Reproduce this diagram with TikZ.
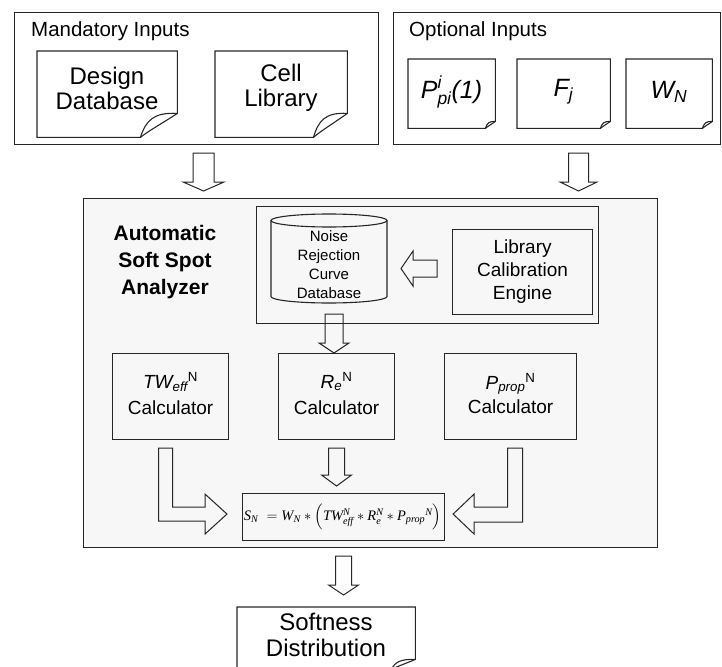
\documentclass[tikz,border=0pt]{standalone}
\usepackage{amsmath}
\usepackage{fontspec}
\setmainfont{Liberation Sans}
\newfontfamily\tnr{Liberation Serif}
\usetikzlibrary{calc}
\newcommand\tv[1]{\text{\tnr\itshape #1}}
\newcommand\si[1]{\text{\itshape #1}}
\newcommand\su[1]{\text{\upshape #1}}
\newcommand\fs[2]{\fontsize{#1}{#2}\selectfont}
% document outline with folded corner: node, fold x, fold y
\newcommand\docpath[3]{%
  \draw[ln] (#1.north west) -- (#1.north east) -- ($(#1.south east)+(0,-#3)$)
    .. controls ($(#1.south east)+(-0.4*#2,-0.6*#3)$) and ($(#1.south east)+(-0.8*#2,-0.25*#3)$) .. ($(#1.south east)+(-#2,0)$)
    -- (#1.south west) -- cycle;
  \draw[ln] ($(#1.south east)+(-#2,0)$) .. controls ($(#1.south east)+(-0.85*#2,-0.7*#3)$) and ($(#1.south east)+(-0.65*#2,-1.05*#3)$) .. ($(#1.south east)+(0,-#3)$);}
% vertical block arrow: top, tip, shaft half width, head half width, head length
\newcommand\vblk[5]{%
  \draw[blk] let \p1=(#1), \p2=(#2) in
    ({\x1-#3pt},\y1) -- ({\x1-#3pt},{\y2+#5pt}) -- ({\x1-#4pt},{\y2+#5pt}) -- (\x1,\y2)
    -- ({\x1+#4pt},{\y2+#5pt}) -- ({\x1+#3pt},{\y2+#5pt}) -- ({\x1+#3pt},\y1) -- cycle;}
% left-pointing block arrow: start, tip, shaft half width, head half width, head length
\newcommand\hblkl[5]{%
  \draw[blk] let \p1=(#1), \p2=(#2) in
    (\x1,{\y1+#3pt}) -- ({\x2+#5pt},{\y1+#3pt}) -- ({\x2+#5pt},{\y1+#4pt}) -- (\x2,\y1)
    -- ({\x2+#5pt},{\y1-#4pt}) -- ({\x2+#5pt},{\y1-#3pt}) -- (\x1,{\y1-#3pt}) -- cycle;}
\tikzset{
  ln/.style={draw=black!85, line width=1.1pt},
  box/.style={ln, rectangle, inner sep=0pt, anchor=north west},
  blk/.style={draw=black!85, line width=1pt, line join=miter},
  txt/.style={inner sep=0pt, align=center},
  doc/.style={rectangle, inner sep=0pt, anchor=north west},
}
\begin{document}
\begin{tikzpicture}[x=1pt, y=-1pt]
\useasboundingbox (0,0) rectangle (722,666);
% input groups
\node[box, minimum width=364, minimum height=132] (mand) at (14,12) {};
\node[box, minimum width=327, minimum height=132] (opt) at (393,12) {};
\node[txt, anchor=base west, font=\fs{20.5}{23}] (mandt) at (31,37) {Mandatory Inputs};
\node[txt, anchor=base west, font=\fs{20.5}{23}] (optt) at (409,37) {Optional Inputs};
% documents
\node[doc, minimum width=140, minimum height=86] (dd) at (37,51) {};
\node[txt, font=\fs{24}{25}] (ddt) at (107,88) {Design\\Database};
\docpath{dd}{37}{24}
\node[doc, minimum width=132, minimum height=86] (cl) at (215,51) {};
\node[txt, font=\fs{24}{25}] (clt) at (281,88) {Cell\\Library};
\docpath{cl}{34}{24}
\node[doc, minimum width=87, minimum height=69] (pp1) at (408,59) {};
\node[txt, font=\fs{25}{26}] (pp1t) at (451.5,92) {$\si{P}_{\si{pi}}^{\si{i}}\si{(1)}$};
\docpath{pp1}{10}{7}
\node[doc, minimum width=93, minimum height=69] (fj) at (517,59) {};
\node[txt, font=\fs{25}{26}] (fjt) at (563.5,92) {$\si{F}_{\si{j}}$};
\docpath{fj}{10}{7}
\node[doc, minimum width=86, minimum height=69] (wn) at (626,59) {};
\node[txt, font=\fs{25}{26}] (wnt) at (669,92) {$\si{W}_{\si{N}}$};
\docpath{wn}{10}{7}
% main analyzer
\node[box, fill=black!3, minimum width=574, minimum height=349] (main) at (83,198) {};
\node[txt, font=\fs{21}{27}\bfseries] (asa) at (165,262) {Automatic\\Soft Spot\\Analyzer};
\node[box, minimum width=342, minimum height=117] (dbin) at (256,206) {};
% cylinder
\coordinate (cylt) at (329,220.5);
\coordinate (cylb) at (329,303);
\draw[ln] ($(cylt)+(-58,0)$) -- ($(cylb)+(-58,-6.5)$) arc[start angle=180, end angle=360, x radius=58pt, y radius=6.5pt] -- ($(cylt)+(58,0)$);
\draw[ln] (cylt) ellipse [x radius=58pt, y radius=6.5pt];
\node[txt, font=\fs{15}{19}] (nrc) at (329,265) {Noise\\Rejection\\Curve\\Database};
\node[box, minimum width=140, minimum height=85] (lib) at (452,229) {};
\node[txt, font=\fs{19}{23}] (libt) at (lib.center) {Library\\Calibration\\Engine};
% calculators
\node[box, minimum width=116, minimum height=86] (tw) at (112,353) {};
\node[txt, font=\fs{19}{26}] (twt) at ($(tw.center)+(0,-3)$) {$\si{TW}_{\si{eff}}{}^{\su{N}}$\\Calculator};
\node[box, minimum width=116, minimum height=86] (re) at (278,353) {};
\node[txt, font=\fs{19}{26}] (ret) at ($(re.center)+(0,-3)$) {$\si{R}_{\si{e}}{}^{\su{N}}$\\Calculator};
\node[box, minimum width=132, minimum height=86] (pp) at (444,353) {};
\node[txt, font=\fs{19}{24}] (ppt) at ($(pp.center)+(0,-3)$) {$\si{P}_{\si{prop}}{}^{\su{N}}$\\Calculator};
% formula
\node[box, minimum width=202, minimum height=47] (frm) at (242,493) {};
\node[txt, font=\fs{14.5}{16}] (frmt) at ($(frm.center)+(-1,0)$) {$\tv{S}_{\tv{N}}\ = \tv{W}_{\tv{N}} * \Bigl(\tv{TW}^{\tv{N}}_{\tv{eff}} * \tv{R}^{\tv{N}}_{\tv{e}} * \tv{P}_{\tv{prop}}{}^{\tv{N}}\Bigr)$};
% output
\node[doc, minimum width=178, minimum height=62] (sd) at (237,607) {};
\node[txt, font=\fs{24}{26}] (sdt) at (326,635) {Softness\\Distribution};
\docpath{sd}{24}{10}
% block arrows
\coordinate (aM1) at ($(mand.south)+(7,8)$);
\coordinate (aM2) at ($(aM1 |- main.north)+(0,-7)$);
\vblk{aM1}{aM2}{10.5}{20.5}{9}
\coordinate (aO1) at ($(opt.south)+(21.5,8)$);
\coordinate (aO2) at ($(aO1 |- main.north)+(0,-7)$);
\vblk{aO1}{aO2}{10}{18.5}{9}
\coordinate (aL1) at ($(lib.west)+(-15,-3.5)$);
\coordinate (aL2) at ($(cylt)+(72,47.5)$);
\hblkl{aL1}{aL2}{8.5}{17.5}{12}
\coordinate (aC1) at ($(cylb)+(5,11)$);
\coordinate (aC2) at (aC1 |- re.north);
\vblk{aC1}{aC2}{9}{15}{10}
\coordinate (aR1) at ($(re.south)+(0,8)$);
\coordinate (aR2) at ($(aR1 |- frm.north)+(0,-7)$);
\vblk{aR1}{aR2}{8}{15}{11}
\coordinate (aB1) at ($(frm.south |- main.south)+(0,8)$);
\coordinate (aB2) at ($(aB1 |- sd.north)+(0,-12)$);
\vblk{aB1}{aB2}{8}{15}{10}
% L-shaped arrows
\coordinate (aT1) at ($(tw.south)+(-5,8)$);
\coordinate (aT2) at ($(frm.west)+(-15,-3)$);
\draw[blk] let \p1=(aT1), \p2=(aT2) in
  ({\x1-7pt},\y1) -- ({\x1-7pt},{\y2-7pt}) -- ({\x2-22pt},{\y2-7pt}) -- ({\x2-22pt},{\y2-20pt}) -- (\x2,\y2)
  -- ({\x2-22pt},{\y2+20pt}) -- ({\x2-22pt},{\y2+7pt}) -- ({\x1+7pt},{\y2+7pt}) -- ({\x1+7pt},\y1) -- cycle;
\coordinate (aP1) at ($(pp.south)+(4.5,8)$);
\coordinate (aP2) at ($(frm.east)+(8,-3)$);
\draw[blk] let \p1=(aP1), \p2=(aP2) in
  ({\x1+7.5pt},\y1) -- ({\x1+7.5pt},{\y2-8pt}) -- ({\x2+21pt},{\y2-8pt}) -- ({\x2+21pt},{\y2-20pt}) -- (\x2,\y2)
  -- ({\x2+21pt},{\y2+20pt}) -- ({\x2+21pt},{\y2+7pt}) -- ({\x1-7.5pt},{\y2+7pt}) -- ({\x1-7.5pt},\y1) -- cycle;
\end{tikzpicture}
\end{document}
